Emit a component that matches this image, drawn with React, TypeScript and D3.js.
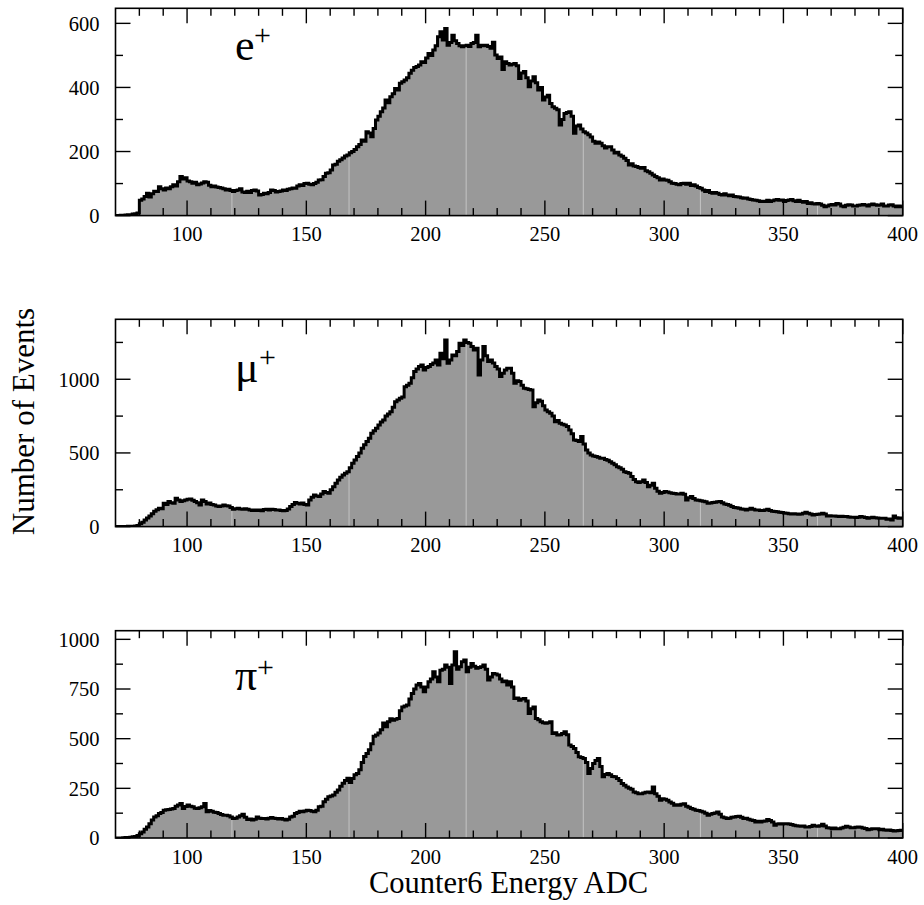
import React from 'react';
import * as d3 from 'd3';

// ---- data (bin contents, 1 ADC-count bins starting at 70) ----
const binStart = 70;
const binWidth = 1;
const xDomain = [70, 400];

const ePlus = [
  0, 0, 1, 1, 2, 3, 3, 5, 6, 8,
  48, 52, 60, 70, 58, 68, 76, 75, 90, 84,
  80, 86, 84, 90, 96, 92, 106, 122, 114, 118,
  108, 106, 101, 104, 96, 99, 102, 106, 104, 95,
  90, 92, 89, 88, 86, 84, 80, 82, 78, 75,
  78, 80, 84, 74, 72, 76, 72, 78, 80, 77,
  64, 66, 70, 68, 72, 80, 78, 74, 75, 77,
  80, 78, 82, 84, 86, 85, 92, 96, 94, 100,
  101, 98, 96, 100, 104, 111, 112, 122, 132, 134,
  142, 158, 160, 170, 174, 180, 186, 189, 196, 200,
  206, 215, 222, 236, 232, 262, 258, 246, 272, 298,
  310, 324, 336, 361, 352, 371, 380, 397, 392, 413,
  418, 423, 430, 444, 454, 462, 465, 470, 480, 478,
  492, 506, 500, 517, 530, 558, 574, 548, 584, 532,
  540, 563, 546, 537, 530, 527, 530, 532, 528, 537,
  540, 563, 527, 532, 530, 532, 528, 522, 541, 501,
  490, 495, 456, 480, 475, 470, 472, 475, 468, 428,
  445, 450, 430, 402, 420, 433, 415, 392, 400, 361,
  370, 376, 350, 340, 335, 330, 283, 300, 319, 322,
  324, 310, 257, 280, 283, 270, 262, 258, 252, 245,
  232, 226, 230, 226, 218, 211, 215, 215, 205, 195,
  198, 189, 185, 179, 172, 158, 162, 155, 153, 150,
  148, 150, 140, 137, 132, 127, 122, 118, 111, 114,
  111, 110, 106, 101, 100, 98, 96, 100, 101, 98,
  101, 94, 96, 92, 88, 85, 80, 75, 78, 72,
  70, 72, 70, 66, 64, 68, 64, 62, 64, 60,
  59, 58, 56, 54, 55, 52, 50, 49, 48, 46,
  44, 45, 44, 48, 44, 46, 49, 50, 48, 49,
  44, 47, 49, 50, 46, 44, 48, 44, 42, 44,
  38, 40, 37, 36, 38, 36, 32, 28, 30, 33,
  35, 33, 38, 36, 30, 28, 32, 34, 33, 30,
  30, 32, 33, 35, 33, 30, 34, 36, 34, 32,
  33, 36, 30, 30, 33, 34, 30, 28, 30, 28,
];

const muPlus = [
  0, 0, 0, 1, 1, 2, 2, 3, 4, 8,
  20, 30, 45, 58, 72, 88, 105, 115, 124, 122,
  158, 150, 170, 162, 158, 192, 180, 170, 176, 181,
  185, 188, 178, 170, 162, 147, 181, 170, 154, 160,
  150, 147, 140, 136, 140, 147, 142, 140, 130, 118,
  122, 124, 120, 118, 122, 118, 112, 109, 112, 110,
  113, 108, 116, 118, 112, 118, 116, 112, 113, 110,
  108, 109, 120, 136, 150, 163, 158, 154, 160, 150,
  147, 181, 200, 215, 208, 204, 222, 238, 232, 226,
  250, 271, 295, 317, 335, 351, 362, 373, 400, 430,
  452, 475, 500, 532, 555, 577, 600, 633, 650, 667,
  690, 710, 724, 750, 765, 780, 810, 848, 860, 871,
  880, 950, 960, 973, 1010, 1052, 1070, 1086, 1097, 1063,
  1080, 1086, 1100, 1110, 1131, 1097, 1176, 1140, 1267, 1108,
  1130, 1165, 1160, 1188, 1244, 1230, 1267, 1250, 1244, 1222,
  1199, 1210, 1029, 1131, 1222, 1160, 1120, 1131, 1110, 1086,
  1070, 1018, 1040, 1063, 1074, 1074, 1040, 973, 990, 984,
  960, 939, 935, 930, 927, 814, 840, 860, 850, 820,
  792, 780, 769, 750, 712, 720, 701, 695, 690, 680,
  656, 630, 588, 585, 577, 611, 560, 520, 500, 486,
  480, 475, 470, 464, 464, 455, 450, 441, 430, 420,
  407, 400, 390, 373, 368, 362, 340, 320, 305, 300,
  305, 317, 300, 271, 280, 294, 260, 240, 226, 232,
  238, 235, 230, 226, 224, 222, 222, 226, 220, 181,
  195, 204, 190, 181, 178, 176, 172, 168, 158, 160,
  163, 165, 168, 170, 162, 154, 150, 145, 136, 130,
  128, 124, 120, 118, 113, 118, 124, 118, 113, 112,
  110, 109, 112, 118, 110, 105, 102, 100, 97, 95,
  92, 90, 88, 86, 88, 86, 84, 86, 90, 97,
  90, 85, 79, 82, 84, 86, 90, 85, 72, 74,
  72, 72, 70, 68, 70, 68, 68, 66, 63, 64,
  62, 63, 68, 65, 62, 57, 60, 63, 60, 58,
  57, 56, 57, 50, 52, 45, 72, 60, 57, 58,
];

const piPlus = [
  0, 0, 0, 1, 2, 3, 4, 6, 8, 12,
  22, 30, 44, 56, 72, 90, 106, 112, 123, 128,
  140, 142, 144, 146, 149, 160, 166, 174, 149, 158,
  166, 160, 157, 150, 149, 152, 157, 174, 132, 138,
  135, 130, 128, 123, 118, 115, 115, 112, 106, 98,
  100, 106, 112, 120, 104, 93, 96, 90, 95, 106,
  100, 98, 98, 96, 100, 103, 100, 98, 96, 98,
  95, 90, 94, 106, 110, 123, 128, 135, 132, 136,
  140, 138, 135, 132, 140, 157, 160, 182, 195, 208,
  212, 216, 230, 242, 260, 275, 290, 301, 279, 300,
  318, 325, 343, 380, 410, 425, 444, 475, 512, 518,
  529, 545, 579, 560, 585, 600, 593, 598, 602, 640,
  660, 665, 669, 700, 728, 750, 770, 778, 760, 736,
  760, 786, 800, 837, 810, 786, 845, 850, 871, 860,
  778, 871, 937, 850, 862, 887, 896, 837, 860, 879,
  865, 854, 858, 862, 871, 850, 795, 810, 828, 825,
  820, 800, 786, 790, 770, 786, 760, 702, 705, 694,
  700, 702, 690, 627, 650, 660, 602, 595, 585, 580,
  577, 580, 585, 526, 530, 518, 520, 526, 535, 520,
  468, 460, 451, 430, 409, 405, 400, 380, 325, 350,
  375, 390, 400, 360, 308, 320, 325, 318, 310, 308,
  300, 290, 274, 265, 257, 250, 245, 232, 228, 223,
  223, 226, 230, 232, 228, 257, 223, 210, 190, 198,
  195, 190, 181, 175, 165, 168, 165, 170, 173, 160,
  155, 148, 145, 140, 138, 135, 131, 125, 115, 120,
  123, 126, 131, 120, 106, 102, 98, 100, 104, 106,
  108, 109, 104, 98, 100, 95, 90, 88, 81, 84,
  81, 84, 86, 93, 88, 81, 64, 70, 72, 70,
  72, 72, 70, 68, 64, 62, 60, 59, 60, 56,
  56, 58, 64, 60, 59, 62, 69, 60, 52, 50,
  47, 50, 47, 47, 50, 54, 59, 55, 52, 52,
  54, 56, 54, 50, 48, 42, 44, 47, 46, 47,
  42, 44, 40, 39, 40, 38, 35, 36, 38, 39,
];

// tick values
const xMajorTicks = [100, 150, 200, 250, 300, 350, 400];
const xMinorTicks = [80, 90, 110, 120, 130, 140, 160, 170, 180, 190, 210, 220, 230, 240, 260, 270, 280, 290, 310, 320, 330, 340, 360, 370, 380, 390];
const eMajor = [0, 200, 400, 600];
const eMinor = [100, 300, 500];
const muMajor = [0, 500, 1000];
const muMinor = [250, 750, 1250];
const piMajor = [0, 250, 500, 750, 1000];
const piMinor = [125, 375, 625, 875];
const yMaxes = [647, 1407, 1043.5];
// positions where the gray fill shows faint seams
const fillSeams = [118.8, 167.9, 217.0, 266.1, 315.2, 364.3];

const xTitle = 'Counter6 Energy ADC';
const yTitle = 'Number of Events';

const FONT = '"Liberation Serif", "Times New Roman", Times, serif';

const LEFT = 115.5;
const RIGHT = 902.7;
const HEIGHT = 207.3;
const TOPS = [8.3, 319.3, 630.7];
const MAJ = 15;
const MIN = 7.5;

const panelDefs = [
  { name: 'e', values: ePlus, major: eMajor, minor: eMinor, yMax: yMaxes[0], lab: { x: 235, y: 59.5, sx: 254, sy: 44.5 } },
  { name: 'μ', values: muPlus, major: muMajor, minor: muMinor, yMax: yMaxes[1], lab: { x: 235, y: 381.5, sx: 259, sy: 367 } },
  { name: 'π', values: piPlus, major: piMajor, minor: piMinor, yMax: yMaxes[2], lab: { x: 235, y: 690, sx: 257, sy: 677 } },
];

function Panel({ def, top, idx }: any) {
  const x = d3.scaleLinear().domain(xDomain).range([LEFT, RIGHT]);
  const bottom = top + HEIGHT;
  const y = d3.scaleLinear().domain([0, def.yMax]).range([bottom, top]);
  const pts: [number, number][] = def.values.map((v: number, i: number) => [binStart + i * binWidth, v]);
  pts.push([binStart + def.values.length * binWidth, def.values[def.values.length - 1]]);
  const area = d3.area<[number, number]>().x(d => x(d[0])).y0(y(0)).y1(d => y(d[1])).curve(d3.curveStepAfter);
  const line = d3.line<[number, number]>().x(d => x(d[0])).y(d => y(d[1])).curve(d3.curveStepAfter);
  const clipId = `clip${idx}`;
  const valAt = (xv: number) => def.values[Math.floor((xv - binStart) / binWidth)];
  return (
    <g>
      <defs>
        <clipPath id={clipId}>
          <rect x={LEFT} y={top} width={RIGHT - LEFT} height={HEIGHT} />
        </clipPath>
      </defs>
      <g clipPath={`url(#${clipId})`}>
        <path d={area(pts) || ''} fill="#999999" stroke="none" />
        {fillSeams.map((s, i) => (
          <line key={i} x1={x(s)} x2={x(s)} y1={y(0)} y2={y(valAt(s)) + 2} stroke="#c4c4c4" strokeWidth={1} />
        ))}
        <path d={line(pts) || ''} fill="none" stroke="#000" strokeWidth={3} strokeLinejoin="miter" />
      </g>
      <rect x={LEFT} y={top} width={RIGHT - LEFT} height={HEIGHT} fill="none" stroke="#000" strokeWidth={1.6} />
      {xMajorTicks.map(t => (
        <g key={'xM' + t}>
          <line x1={x(t)} x2={x(t)} y1={bottom} y2={bottom - MAJ} stroke="#000" strokeWidth={1.4} />
          <line x1={x(t)} x2={x(t)} y1={top} y2={top + MAJ} stroke="#000" strokeWidth={1.4} />
          <text x={x(t)} y={bottom + 25.5} textAnchor="middle" fontFamily={FONT} fontSize={20.5} fill="#000">{t}</text>
        </g>
      ))}
      {xMinorTicks.map(t => (
        <g key={'xm' + t}>
          <line x1={x(t)} x2={x(t)} y1={bottom} y2={bottom - MIN} stroke="#000" strokeWidth={1.4} />
          <line x1={x(t)} x2={x(t)} y1={top} y2={top + MIN} stroke="#000" strokeWidth={1.4} />
        </g>
      ))}
      {def.major.map((t: number) => (
        <g key={'yM' + t}>
          <line x1={LEFT} x2={LEFT + MAJ} y1={y(t)} y2={y(t)} stroke="#000" strokeWidth={1.4} />
          <line x1={RIGHT} x2={RIGHT - MAJ} y1={y(t)} y2={y(t)} stroke="#000" strokeWidth={1.4} />
          <text x={99.5} y={y(t)} dy="0.36em" textAnchor="end" fontFamily={FONT} fontSize={20.5} fill="#000">{t}</text>
        </g>
      ))}
      {def.minor.map((t: number) => (
        <g key={'ym' + t}>
          <line x1={LEFT} x2={LEFT + MIN} y1={y(t)} y2={y(t)} stroke="#000" strokeWidth={1.4} />
          <line x1={RIGHT} x2={RIGHT - MIN} y1={y(t)} y2={y(t)} stroke="#000" strokeWidth={1.4} />
        </g>
      ))}
      <text x={def.lab.x} y={def.lab.y} fontFamily={FONT} fontSize={44} fill="#000">{def.name}</text>
      <text x={def.lab.sx} y={def.lab.sy} fontFamily={FONT} fontSize={30} fill="#000">+</text>
    </g>
  );
}

export default function App() {
  return (
    <svg width={924} height={905} viewBox="0 0 924 905" style={{ position: 'absolute', left: 0, top: 0, background: '#fff' }}>
      <rect x={0} y={0} width={924} height={905} fill="#fff" />
      {panelDefs.map((p, i) => (
        <Panel key={i} def={p} top={TOPS[i]} idx={i} />
      ))}
      <text x={508.5} y={893} textAnchor="middle" fontFamily={FONT} fontSize={30.5} fill="#000">{xTitle}</text>
      <text transform="translate(33.5,421.5) rotate(-90)" textAnchor="middle" fontFamily={FONT} fontSize={31} fill="#000">{yTitle}</text>
    </svg>
  );
}
